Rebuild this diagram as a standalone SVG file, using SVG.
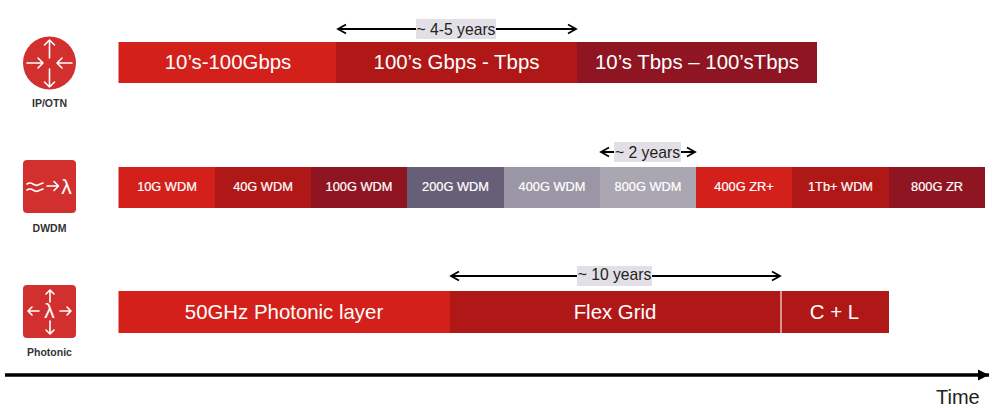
<svg xmlns="http://www.w3.org/2000/svg" width="1000" height="410" viewBox="0 0 1000 410">
<style>
text{font-family:"Liberation Sans",Arial,sans-serif}
.big{font-size:20.400px;fill:#fff;text-anchor:middle}
.small{font-size:12.800px;fill:#fff;text-anchor:middle;stroke:#fff;stroke-width:.2}
.span{font-size:15.700px;fill:#222;text-anchor:middle}
.icon{font-size:10.500px;font-weight:700;fill:#333;text-anchor:middle}
.lbl{fill:#e2e0e6}
.dim{stroke:#000;stroke-width:2;fill:none;marker-start:url(#os);marker-end:url(#oe)}
.g{stroke:#fff;stroke-width:1.6;fill:none;stroke-linecap:round;stroke-linejoin:round}
.r{fill:#d1302f}
.lam{font-size:21px;fill:#fff;text-anchor:middle}
.a{fill:#d4201a}.b{fill:#b01818}.c{fill:#8f1523}
</style>
<defs>
<marker id="oe" markerUnits="userSpaceOnUse" markerWidth="12" markerHeight="12" refX="10" refY="6" orient="auto"><path d="M2 1.500L10 6L2 10.500" fill="none" stroke="#000" stroke-width="1.800"/></marker>
<marker id="os" markerUnits="userSpaceOnUse" markerWidth="12" markerHeight="12" refX="2" refY="6" orient="auto"><path d="M10 1.500L2 6L10 10.500" fill="none" stroke="#000" stroke-width="1.800"/></marker>
<marker id="tm" markerUnits="userSpaceOnUse" markerWidth="14" markerHeight="14" refX="12" refY="6" orient="auto"><path d="M1 0.500L12 6L1 11.500Z" fill="#000"/></marker>
</defs>

<g id="node-ip-otn">
<circle class="r" cx="49.500" cy="63" r="26.500"/>
<path class="g" d="M49.500 40V58M44.500 45L49.500 40L54.500 45M49.500 69V87M44.500 82L49.500 87L54.500 82M27 63H43M38 58L43 63L38 68M72 63H57M62 58L57 63L62 68"/>
<text class="icon" x="49.500" y="107">IP/OTN</text>
</g>
<g id="node-dwdm">
<rect class="r" x="23" y="160" width="53" height="53" rx="4"/>
<path class="g" d="M27 184Q30 182 33 184T38 185T43 183M27 190Q30 188 33 190T38 191T43 189M47 186H58M54 181.500L58.500 186L54 190.500"/>
<text class="lam" x="66.500" y="193.500">λ</text>
<text class="icon" x="49.500" y="232">DWDM</text>
</g>
<g id="node-photonic">
<rect class="r" x="23" y="285" width="53" height="53" rx="4"/>
<path class="g" d="M50 290V302M46 294L50 290L54 294M50 321V334M46 330L50 334L54 330M28 311H39M32 307L28 311L32 315M60 311H71M67 307L71 311L67 315"/>
<text class="lam" x="49.500" y="318">λ</text>
<text class="icon" x="49.500" y="356">Photonic</text>
</g>

<g id="node-ip-bars">
<rect class="a" x="118.500" y="42" width="217.500" height="41"/><text class="big" x="228" y="69">10’s-100Gbps</text>
<rect class="b" x="336" y="42" width="241" height="41"/><text class="big" x="456.500" y="69">100’s Gbps - Tbps</text>
<rect class="c" x="577" y="42" width="240" height="41"/><text class="big" x="697" y="69">10’s Tbps – 100’sTbps</text>
</g>
<g id="node-dwdm-bars">
<rect class="a" x="118.500" y="167" width="96.500" height="41"/><text class="small" x="167" y="191">10G WDM</text>
<rect class="b" x="215" y="167" width="96" height="41"/><text class="small" x="263" y="191">40G WDM</text>
<rect class="c" x="311" y="167" width="96" height="41"/><text class="small" x="359" y="191">100G WDM</text>
<rect x="407" y="167" width="97" height="41" fill="#675f78"/><text class="small" x="455.500" y="191">200G WDM</text>
<rect x="504" y="167" width="96" height="41" fill="#9b96a5"/><text class="small" x="552" y="191">400G WDM</text>
<rect x="600" y="167" width="96" height="41" fill="#aba7b2"/><text class="small" x="648" y="191">800G WDM</text>
<rect class="a" x="696" y="167" width="96" height="41"/><text class="small" x="744" y="191">400G ZR+</text>
<rect class="b" x="792" y="167" width="97" height="41"/><text class="small" x="840.500" y="191">1Tb+ WDM</text>
<rect class="c" x="889" y="167" width="96" height="41"/><text class="small" x="937" y="191">800G ZR</text>
</g>
<g id="node-photonic-bars">
<rect class="a" x="118.500" y="291" width="331.500" height="42"/><text class="big" x="284" y="319">50GHz Photonic layer</text>
<rect class="b" x="450" y="291" width="331" height="42"/><text class="big" x="615" y="319">Flex Grid</text>
<rect class="b" x="781" y="291" width="108" height="42"/><text class="big" x="834.500" y="319">C + L</text>
<path d="M781 291V333" stroke="#e9b9b9" stroke-width="1.500"/>
</g>

<g id="connectors">
<path class="dim" d="M338 29H576"/>
<path class="dim" d="M601 152H695"/>
<path class="dim" d="M451 276H780"/>
<path d="M5 375H989" stroke="#000" stroke-width="3.500" fill="none" marker-end="url(#tm)"/>
</g>
<g id="label-4-5">
<rect class="lbl" x="416" y="19" width="80" height="20"/><text class="span" x="456" y="34.500">~ 4-5 years</text>
</g>
<g id="label-2">
<rect class="lbl" x="614" y="142" width="67" height="20"/><text class="span" x="647.500" y="157.500">~ 2 years</text>
</g>
<g id="label-10">
<rect class="lbl" x="577" y="266" width="75" height="20"/><text class="span" x="614.500" y="280">~ 10 years</text>
</g>
<g id="label-time"><text x="936" y="404" font-size="20" fill="#222">Time</text></g>
</svg>
